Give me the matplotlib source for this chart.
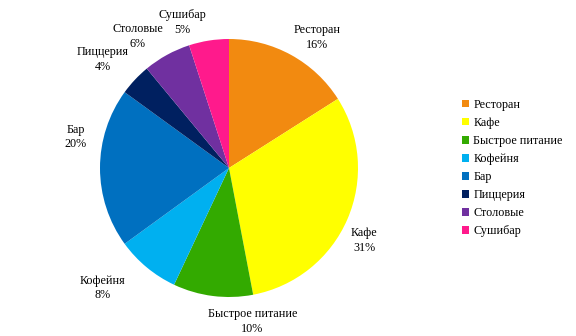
import matplotlib.pyplot as plt
from matplotlib.patches import Patch

plt.rcParams['font.family'] = ['Liberation Serif', 'DejaVu Serif']

categories = ['Ресторан', 'Кафе', 'Быстрое питание', 'Кофейня', 'Бар',
              'Пиццерия', 'Столовые', 'Сушибар']
shares = [16, 31, 10, 8, 20, 4, 6, 5]
colors = ['#F28A10', '#FFFF00', '#33AA00', '#00B0F0', '#0070C0',
          '#002060', '#7030A0', '#FF1A8C']

# label centres, in pie radii (radius = 1)
label_pos = [(0.68, 1.01), (1.05, -0.56), (0.18, -1.19), (-0.98, -0.93),
             (-1.19, 0.24), (-0.98, 0.84), (-0.71, 1.02), (-0.36, 1.13)]

fig = plt.figure(figsize=(5.76, 3.36), dpi=100)
ax = fig.add_axes([100 / 576, 39 / 336, 258 / 576, 258 / 336])

wedges, _ = ax.pie(shares, colors=colors, startangle=90, counterclock=False,
                   radius=1)
ax.set_xlim(-1, 1)
ax.set_ylim(-1, 1)
ax.set_aspect('equal')
ax.axis('off')

for name, val, (x, y) in zip(categories, shares, label_pos):
    ax.text(x, y, f'{name}\n{val}%', ha='center', va='center',
            fontsize=8.7, linespacing=1.3, clip_on=False)

handles = [Patch(facecolor=c, edgecolor='none') for c in colors]
fig.legend(handles, categories, loc='center left',
           bbox_to_anchor=(457 / 576, 1 - 168 / 336), frameon=False,
           fontsize=8.7, handlelength=0.6, handleheight=0.6,
           handletextpad=0.35, labelspacing=0.5, borderaxespad=0)

fig.savefig('out.png', dpi=100)
